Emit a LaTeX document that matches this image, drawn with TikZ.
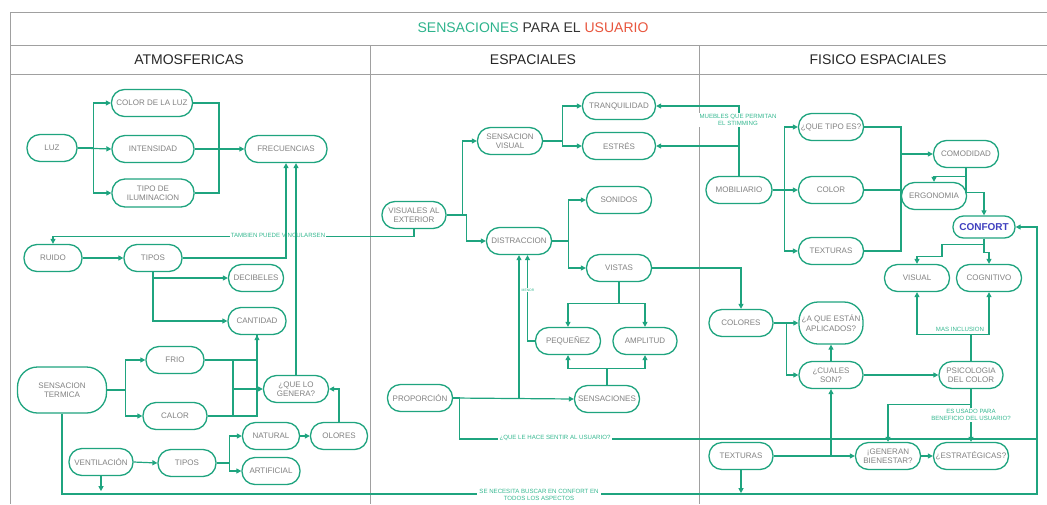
\documentclass[tikz,border=0pt]{standalone}
\usepackage{fontspec}
\setmainfont{Liberation Sans}
\usetikzlibrary{arrows.meta}
\definecolor{G}{HTML}{1FA47F}
\definecolor{GL}{HTML}{35B890}
\definecolor{TG}{HTML}{828282}
\definecolor{LN}{HTML}{A0A0A0}
\definecolor{TR}{HTML}{E8553D}
\definecolor{TB}{HTML}{3F3FBF}
\definecolor{TD}{HTML}{333333}
\definecolor{TT}{HTML}{2DB38C}
\newcommand\nodefont{\fontsize{8}{9.4}\selectfont}
\newcommand\labfont{\fontsize{6.1}{7.4}\selectfont}
\newcommand\headfont{\fontsize{14}{16}\selectfont}
\begin{document}
\begin{tikzpicture}[x=1pt,y=-1pt,
 box/.style={draw=G, line width=1.3pt, rounded corners=13pt, fill=white, text=TG, font=\nodefont, align=center, inner sep=0pt, minimum height=27pt},
 con/.style={draw=G, line width=1.2pt, -{Triangle[length=5pt,width=5pt]}},
 lin/.style={draw=G, line width=1.2pt},
 lab/.style={fill=white, text=GL, font=\labfont, align=center, inner sep=1pt},
 grid/.style={draw=LN, line width=0.9pt}]
\useasboundingbox (0,0) rectangle (1047,504);
% table
\draw[grid] (10,504) -- (10,12) -- (1047,12);
\draw[grid] (10,45) -- (1047,45);
\draw[grid] (10,74) -- (1047,74);
\draw[grid] (370,45) -- (370,504);
\draw[grid] (699,45) -- (699,504);
\node[font=\headfont, inner sep=0pt] (title) at (533,28) {\textcolor{TT}{SENSACIONES} \textcolor{TD}{PARA EL} \textcolor{TR}{USUARIO}};
\node[font=\headfont, text=black!85, inner sep=0pt] (h1) at (189,60) {ATMOSFERICAS};
\node[font=\headfont, text=black!85, inner sep=0pt] (h2) at (533,60) {ESPACIALES};
\node[font=\headfont, text=black!85, inner sep=0pt] (h3) at (878,60) {FISICO ESPACIALES};

% ---- left column nodes
\node[box, minimum width=50pt] (luz) at (52,148) {LUZ};
\node[box, minimum width=81pt] (colorluz) at (152,103) {COLOR DE LA LUZ};
\node[box, minimum width=82pt] (intens) at (153,149) {INTENSIDAD};
\node[box, minimum width=82pt, minimum height=28pt] (tipoilum) at (153,193) {TIPO DE\\ILUMINACION};
\node[box, minimum width=82pt] (frec) at (286,149) {FRECUENCIAS};
\node[box, minimum width=58pt] (ruido) at (53,258) {RUIDO};
\node[box, minimum width=58pt] (tipos1) at (153,258) {TIPOS};
\node[box, minimum width=55pt] (decib) at (256,278) {DECIBELES};
\node[box, minimum width=58pt] (cant) at (257,321) {CANTIDAD};
\node[box, minimum width=58pt] (frio) at (175,360) {FRIO};
\node[box, minimum width=64pt] (calor) at (175,416) {CALOR};
\node[box, minimum width=89pt, minimum height=46pt, rounded corners=20pt] (sterm) at (62,390) {SENSACION\\TERMICA};
\node[box, minimum width=65pt] (genera) at (296,389) {¿QUE LO\\GENERA?};
\node[box, minimum width=57pt] (natural) at (271,436) {NATURAL};
\node[box, minimum width=57pt] (olores) at (339,436) {OLORES};
\node[box, minimum width=64pt] (vent) at (101,462) {VENTILACIÓN};
\node[box, minimum width=58pt] (tipos2) at (187,463) {TIPOS};
\node[box, minimum width=58pt] (artif) at (271,471) {ARTIFICIAL};

% ---- middle column nodes
\node[box, minimum width=64pt] (visext) at (414,215) {VISUALES AL\\EXTERIOR};
\node[box, minimum width=65pt] (svis) at (510,141) {SENSACION\\VISUAL};
\node[box, minimum width=73pt] (tranq) at (619,106) {TRANQUILIDAD};
\node[box, minimum width=73pt] (estres) at (619,146) {ESTRÉS};
\node[box, minimum width=65pt] (sonidos) at (619,200) {SONIDOS};
\node[box, minimum width=65pt] (distr) at (519,241) {DISTRACCION};
\node[box, minimum width=65pt] (vistas) at (619,268) {VISTAS};
\node[box, minimum width=65pt] (peq) at (568,341) {PEQUEÑEZ};
\node[box, minimum width=64pt] (ampl) at (645,341) {AMPLITUD};
\node[box, minimum width=65pt] (prop) at (420,398) {PROPORCIÓN};
\node[box, minimum width=65pt] (sens) at (607,399) {SENSACIONES};

% ---- right column nodes
\node[box, minimum width=66pt] (mob) at (739,190) {MOBILIARIO};
\node[box, minimum width=65pt] (qtipo) at (831,127) {¿QUE TIPO ES?};
\node[box, minimum width=65pt] (color) at (831,190) {COLOR};
\node[box, minimum width=65pt] (text1) at (831,251) {TEXTURAS};
\node[box, minimum width=65pt] (comod) at (966,154) {COMODIDAD};
\node[box, minimum width=65pt] (ergo) at (934,196) {ERGONOMIA};
\node[box, minimum width=62pt, minimum height=22pt, rounded corners=10.5pt, text=TB, font=\fontsize{10}{12}\selectfont\bfseries] (confort) at (984,227) {CONFORT};
\node[box, minimum width=65pt] (visual) at (917,278) {VISUAL};
\node[box, minimum width=65pt] (cogn) at (989,278) {COGNITIVO};
\node[box, minimum width=64pt] (colores) at (741,323) {COLORES};
\node[box, minimum width=64pt, minimum height=42pt, rounded corners=19pt] (aque) at (831,323) {¿A QUE ESTÁN\\APLICADOS?};
\node[box, minimum width=64pt] (cuales) at (831,375) {¿CUALES\\SON?};
\node[box, minimum width=64pt] (psico) at (971,375) {PSICOLOGIA\\DEL COLOR};
\node[box, minimum width=64pt] (text2) at (741,456) {TEXTURAS};
\node[box, minimum width=65pt] (gener) at (888,456) {¡GENERAN\\BIENESTAR?};
\node[box, minimum width=75pt] (estrat) at (971,456) {¿ESTRATÉGICAS?};

\coordinate (jl) at (219,149);
\coordinate (jt) at (233,389);
\coordinate (cr) at (1037,494);
\coordinate (cq) at (1037,439);
\coordinate (jr) at (901,154);

% ---- left connectors
\draw[con] (luz.east) -- (intens.west);
\draw[con] (luz.east) -- ++(16,0) |- (colorluz.west);
\draw[con] (luz.east) -- ++(16,0) |- (tipoilum.west);
\draw[lin] (colorluz.east) -| (jl) |- (tipoilum.east);
\draw[con] (intens.east) -- (frec.west);
% tambien puede vincularsen
\draw[con] (visext.south) -- ++(0,7) -| (ruido.north);
\node[lab] (ltamb) at (278,235) {TAMBIEN PUEDE VINCULARSEN};
\draw[con] (tipos1.east) -| (frec.south);
\draw[con] (genera.north) -- (genera.north |- frec.south);
\draw[con] (ruido.east) -- (tipos1.west);
\draw[con] (tipos1.south) |- (cant.west);
\draw[con] (tipos1.south) |- (decib.west);
\draw[con] (sterm.east) -- ++(18,0) |- (frio.west);
\draw[con] (sterm.east) -- ++(18,0) |- (calor.west);
\draw[con] (frio.east) -| (cant.south);
\draw[lin] (calor.east) -| (cant.south);
\draw[lin] (frio.east -| jt) -- (calor.east -| jt);
\draw[con] (jt) -- (genera.west);
\draw[con] (olores.north) |- (genera.east);
\draw[con] (natural.east) -- (olores.west);
\draw[con] (vent.east) -- (tipos2.west);
\draw[con] (tipos2.east) -- ++(13,0) |- (natural.west);
\draw[con] (tipos2.east) -- ++(13,0) |- (artif.west);
\draw[con] (vent.south) -- ++(0,15);
\draw[con] (sterm.south) |- (cr) |- (confort.east);
\node[lab, inner sep=2pt] (lsenec) at (539,495) {SE NECESITA BUSCAR EN CONFORT EN\\TODOS LOS ASPECTOS};

% ---- middle connectors
\draw[con] (visext.east) -- ++(16,0) |- (svis.west);
\draw[con] (visext.east) -- ++(20,0) |- (distr.west);
\draw[con] (svis.east) -- ++(19,0) |- (tranq.west);
\draw[con] (svis.east) -- ++(19,0) |- (estres.west);
\draw[con] (distr.east) -- ++(16,0) |- (sonidos.west);
\draw[con] (distr.east) -- ++(16,0) |- (vistas.west);
\draw[con] (vistas.east) -| (colores.north);
\draw[con] (vistas.south) -- ++(0,21) -| (peq.north);
\draw[con] (vistas.south) -- ++(0,21) -| (ampl.north);
\draw[con] (sens.north) -- ++(0,-16) -| (peq.south);
\draw[con] (sens.north) -- ++(0,-16) -| (ampl.south);
\draw[con] (prop.east) -- (sens.west);
\draw[con] (prop.east -| distr.south) -- (distr.south);
\draw[con] (peq.west) -| ([xshift=8.5pt]distr.south);
\node[lab, font=\fontsize{3.4}{4}\selectfont, inner sep=0.5pt] (lmenor) at (528,290) {MENOR};
\draw[lin] (prop.east) -- ++(6,0) |- (cq);
\node[lab, inner sep=2pt] (lque) at (555,438) {¿QUE LE HACE SENTIR AL USUARIO?};

% ---- right connectors
\draw[con] (mob.north) |- (estres.east);
\draw[con] (mob.north) |- (tranq.east);
\node[lab] (lmueb) at (738,120) {MUEBLES QUE PERMITAN\\EL STIMMING};
\draw[con] (mob.east) -- (color.west);
\draw[con] (mob.east) -- ++(12,0) |- (qtipo.west);
\draw[con] (mob.east) -- ++(12,0) |- (text1.west);
\draw[lin] (qtipo.east) -| (jr);
\draw[lin] (text1.east) -| (jr);
\draw[lin] (color.east) -- (color.east -| jr);
\draw[con] (jr) -- (comod.west);
\draw[con] (comod.south) -- ++(0,8) -| (ergo.north);
\draw[con] (comod.south) -- ++(0,24) -| (confort.north);
\draw[con] (confort.south) -- ++(0,6) -- ++(-42,0) |- ([yshift=7pt]visual.north) -- (visual.north);
\draw[con] (confort.south) -- ++(0,14) -| (cogn.north);
\draw[con] (psico.north) -- ++(0,-26) -| (visual.south);
\draw[con] (psico.north) -- ++(0,-26) -| (cogn.south);
\node[lab, fill=none] (lmas) at (960,329) {MAS INCLUSION};
\draw[con] (psico.south) -- (estrat.north);
\draw[con] (psico.south) -- ++(0,15) -| (gener.north);
\node[lab] (lusado) at (971,415) {ES USADO PARA\\BENEFICIO DEL USUARIO?};
\draw[con] (colores.east) -- (aque.west);
\draw[con] (colores.east) -- ++(13,0) |- (cuales.west);
\draw[con] (cuales.north) -- (aque.south);
\draw[con] (cuales.east) -- (psico.west);
\draw[con] (text2.east) -- (gener.west);
\draw[con] (text2.east -| cuales.south) -- (cuales.south);
\draw[con] (gener.east) -- (estrat.west);
\draw[con] (text2.south) -- ++(0,23);
\end{tikzpicture}
\end{document}
